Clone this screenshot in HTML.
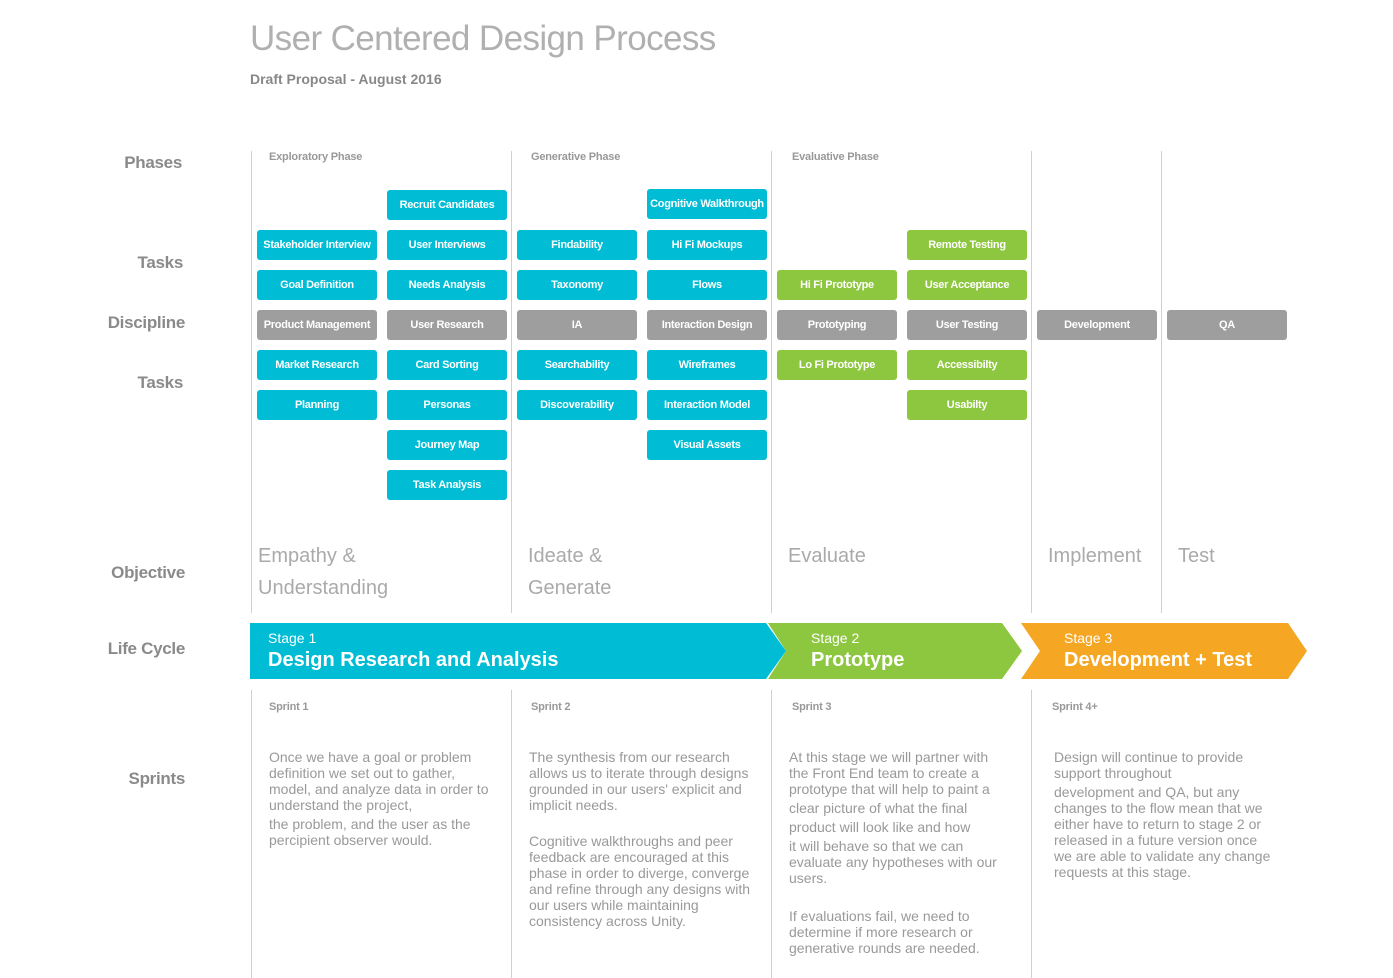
<!DOCTYPE html>
<html><head><meta charset="utf-8"><style>
body{margin:0;width:1393px;height:978px;background:#fff;position:relative;font-family:"Liberation Sans",sans-serif;overflow:hidden}
.a{position:absolute}
.b{position:absolute;width:120px;height:30px;border-radius:3px;color:#fff;font-size:11px;font-weight:bold;line-height:30px;text-align:center;letter-spacing:-0.3px;white-space:nowrap}
.c{background:#00bcd4}.g{background:#8dc63f}.k{background:#9e9e9e}
.v{position:absolute;width:1px;background:#d0d0d0}
.lab{position:absolute;font-size:17px;font-weight:bold;color:#8a8a8a;text-align:right;width:185px;left:0;letter-spacing:-0.3px}
.ph{position:absolute;font-size:11px;font-weight:bold;color:#999;letter-spacing:-0.2px}
.obj{position:absolute;font-size:20px;color:#aaa;line-height:32px}
.sp{position:absolute;font-size:14px;color:#999;line-height:16px;white-space:nowrap}
.l{position:absolute;left:789px;font-size:14px;color:#999;line-height:16px;white-space:nowrap}
</style></head><body>
<div class="a" style="left:250px;top:19px;font-size:35px;color:#b0b0b0;letter-spacing:-0.6px">User Centered Design Process</div>
<div class="a" style="left:250px;top:71px;font-size:14px;font-weight:bold;color:#888">Draft Proposal - August 2016</div>

<div class="lab" style="top:153px;left:-3px">Phases</div>
<div class="lab" style="top:253px;left:-2px">Tasks</div>
<div class="lab" style="top:313px">Discipline</div>
<div class="lab" style="top:373px;left:-2px">Tasks</div>
<div class="lab" style="top:563px">Objective</div>
<div class="lab" style="top:639px">Life Cycle</div>
<div class="lab" style="top:769px">Sprints</div>

<div class="v" style="left:251px;top:151px;height:462px"></div>
<div class="v" style="left:511px;top:151px;height:462px"></div>
<div class="v" style="left:771px;top:151px;height:462px"></div>
<div class="v" style="left:1031px;top:151px;height:462px"></div>
<div class="v" style="left:1161px;top:151px;height:462px"></div>
<div class="v" style="left:251px;top:690px;height:288px"></div>
<div class="v" style="left:511px;top:690px;height:288px"></div>
<div class="v" style="left:771px;top:690px;height:288px"></div>
<div class="v" style="left:1031px;top:690px;height:288px"></div>

<div class="ph" style="left:269px;top:151px">Exploratory Phase</div>
<div class="ph" style="left:531px;top:151px">Generative Phase</div>
<div class="ph" style="left:792px;top:151px">Evaluative Phase</div>

<div class="b c" style="left:387px;top:190px">Recruit Candidates</div>
<div class="b c" style="left:647px;top:189px">Cognitive Walkthrough</div>

<div class="b c" style="left:257px;top:230px">Stakeholder Interview</div>
<div class="b c" style="left:387px;top:230px">User Interviews</div>
<div class="b c" style="left:517px;top:230px">Findability</div>
<div class="b c" style="left:647px;top:230px">Hi Fi Mockups</div>
<div class="b g" style="left:907px;top:230px">Remote Testing</div>

<div class="b c" style="left:257px;top:270px">Goal Definition</div>
<div class="b c" style="left:387px;top:270px">Needs Analysis</div>
<div class="b c" style="left:517px;top:270px">Taxonomy</div>
<div class="b c" style="left:647px;top:270px">Flows</div>
<div class="b g" style="left:777px;top:270px">Hi Fi Prototype</div>
<div class="b g" style="left:907px;top:270px">User Acceptance</div>

<div class="b k" style="left:257px;top:310px">Product Management</div>
<div class="b k" style="left:387px;top:310px">User Research</div>
<div class="b k" style="left:517px;top:310px">IA</div>
<div class="b k" style="left:647px;top:310px">Interaction Design</div>
<div class="b k" style="left:777px;top:310px">Prototyping</div>
<div class="b k" style="left:907px;top:310px">User Testing</div>
<div class="b k" style="left:1037px;top:310px">Development</div>
<div class="b k" style="left:1167px;top:310px">QA</div>

<div class="b c" style="left:257px;top:350px">Market Research</div>
<div class="b c" style="left:387px;top:350px">Card Sorting</div>
<div class="b c" style="left:517px;top:350px">Searchability</div>
<div class="b c" style="left:647px;top:350px">Wireframes</div>
<div class="b g" style="left:777px;top:350px">Lo Fi Prototype</div>
<div class="b g" style="left:907px;top:350px">Accessibilty</div>

<div class="b c" style="left:257px;top:390px">Planning</div>
<div class="b c" style="left:387px;top:390px">Personas</div>
<div class="b c" style="left:517px;top:390px">Discoverability</div>
<div class="b c" style="left:647px;top:390px">Interaction Model</div>
<div class="b g" style="left:907px;top:390px">Usabilty</div>

<div class="b c" style="left:387px;top:430px">Journey Map</div>
<div class="b c" style="left:647px;top:430px">Visual Assets</div>
<div class="b c" style="left:387px;top:470px">Task Analysis</div>

<div class="obj" style="left:258px;top:540px">Empathy &amp;<br>Understanding</div>
<div class="obj" style="left:528px;top:540px">Ideate &amp;<br>Generate</div>
<div class="obj" style="left:788px;top:540px">Evaluate</div>
<div class="obj" style="left:1048px;top:540px">Implement</div>
<div class="obj" style="left:1178px;top:540px">Test</div>

<svg class="a" style="left:0;top:0" width="1393" height="978">
<polygon points="1005,623 1288,623 1307,651 1288,679 1005,679 1023,651" fill="#f5a623"/>
<polygon points="1005,623 1021,623 1040,651 1021,679 1005,679 1023,651" fill="#fff"/>
<polygon points="768,623 1002,623 1022,651 1002,679 768,679 786,651" fill="#8dc63f"/>
<polygon points="250,623 766,623 786,651 766,679 250,679" fill="#00bcd4"/>
</svg>
<div class="a" style="left:268px;top:630px;color:#fff;font-size:14px">Stage 1</div>
<div class="a" style="left:268px;top:649px;color:#fff;font-size:20px;font-weight:bold">Design Research and Analysis</div>
<div class="a" style="left:811px;top:630px;color:#fff;font-size:14px">Stage 2</div>
<div class="a" style="left:811px;top:649px;color:#fff;font-size:20px;font-weight:bold">Prototype</div>
<div class="a" style="left:1064px;top:630px;color:#fff;font-size:14px">Stage 3</div>
<div class="a" style="left:1064px;top:649px;color:#fff;font-size:20px;font-weight:bold">Development + Test</div>

<div class="ph" style="left:269px;top:701px">Sprint 1</div>
<div class="ph" style="left:531px;top:701px">Sprint 2</div>
<div class="ph" style="left:792px;top:701px">Sprint 3</div>
<div class="ph" style="left:1052px;top:701px">Sprint 4+</div>

<div class="sp" style="left:269px;top:749px">Once we have a goal or problem<br>definition we set out to gather,<br>model, and analyze data in order to<br>understand the project,<br><span style="display:block;margin-top:3px">the problem, and the user as the<br>percipient observer would.</span></div>
<div class="sp" style="left:529px;top:749px">The synthesis from our research<br>allows us to iterate through designs<br>grounded in our users' explicit and<br>implicit needs.<br><br><span style="display:block;margin-top:4px">Cognitive walkthroughs and peer<br>feedback are encouraged at this<br>phase in order to diverge, converge<br>and refine through any designs with<br>our users while maintaining<br>consistency across Unity.</span></div>

<div class="l" style="top:749px">At this stage we will partner with</div>
<div class="l" style="top:765px">the Front End team to create a</div>
<div class="l" style="top:781px">prototype that will help to paint a</div>
<div class="l" style="top:800px">clear picture of what the final</div>
<div class="l" style="top:819px">product will look like and how</div>
<div class="l" style="top:838px">it will behave so that we can</div>
<div class="l" style="top:854px">evaluate any hypotheses with our</div>
<div class="l" style="top:870px">users.</div>
<div class="l" style="top:908px">If evaluations fail, we need to</div>
<div class="l" style="top:924px">determine if more research or</div>
<div class="l" style="top:940px">generative rounds are needed.</div>

<div class="sp" style="left:1054px;top:749px">Design will continue to provide<br>support throughout<br><span style="display:block;margin-top:3px">development and QA, but any<br>changes to the flow mean that we<br>either have to return to stage 2 or<br>released in a future version once<br>we are able to validate any change<br>requests at this stage.</span></div>
</body></html>
